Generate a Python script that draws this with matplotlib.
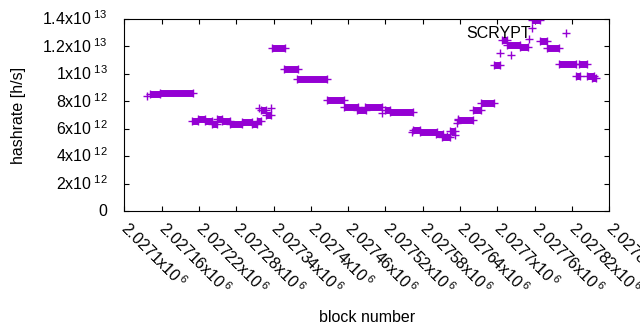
import numpy as np
import matplotlib
matplotlib.use('Agg')
import matplotlib.pyplot as plt

plt.rcParams['font.family'] = ['Liberation Sans', 'DejaVu Sans']
plt.rcParams['mathtext.fontset'] = 'custom'
plt.rcParams['mathtext.rm'] = 'Liberation Sans'

# SCRYPT hashrate per block.
# runs of blocks that share one hashrate: first block, last block, rate [h/s]
seg_first = [2027141, 2027157, 2027209, 2027218, 2027230, 2027241, 2027249, 2027257,
             2027270, 2027289, 2027305, 2027314, 2027320, 2027328, 2027338, 2027357,
             2027378, 2027426, 2027453, 2027474, 2027487, 2027519, 2027527, 2027564,
             2027576, 2027601, 2027611, 2027624, 2027637, 2027661, 2027674, 2027694,
             2027708, 2027716, 2027736, 2027756, 2027768, 2027780, 2027799, 2027827,
             2027831, 2027844, 2027852]
seg_last = [2027157, 2027210, 2027218, 2027230, 2027241, 2027249, 2027257, 2027270,
            2027289, 2027305, 2027314, 2027320, 2027328, 2027336, 2027358, 2027379,
            2027426, 2027453, 2027476, 2027488, 2027514, 2027527, 2027564, 2027575,
            2027603, 2027613, 2027624, 2027632, 2027661, 2027674, 2027694, 2027705,
            2027716, 2027737, 2027749, 2027768, 2027780, 2027799, 2027826, 2027833,
            2027844, 2027855, 2027858]
seg_rate = [8.53e12, 8.64e12, 6.58e12, 6.74e12, 6.54e12, 6.38e12, 6.74e12, 6.56e12,
            6.38e12, 6.52e12, 6.38e12, 6.56e12, 7.33e12, 6.98e12, 1.185e13, 1.032e13,
            9.59e12, 8.06e12, 7.62e12, 7.40e12, 7.62e12, 7.33e12, 7.25e12, 5.94e12,
            5.76e12, 5.58e12, 5.41e12, 5.87e12, 6.67e12, 7.36e12, 7.90e12, 1.068e13,
            1.247e13, 1.21e13, 1.196e13, 1.392e13, 1.243e13, 1.185e13, 1.072e13, 9.84e12,
            1.072e13, 9.84e12, 9.73e12]

# single blocks away from the runs
pt_block = [2027137, 2027317, 2027336, 2027515, 2027563, 2027619, 2027632, 2027635,
            2027637, 2027705, 2027722, 2027751, 2027756]
pt_rate = [8.38e12, 7.51e12, 7.51e12, 7.14e12, 5.76e12, 5.47e12, 5.54e12, 6.42e12,
           6.71e12, 1.152e13, 1.137e13, 1.254e13, 1.334e13]

x_ticks = [2027100, 2027160, 2027220, 2027280, 2027340, 2027400, 2027460,
           2027520, 2027580, 2027640, 2027700, 2027760, 2027820, 2027880]
x_labels = ['2.0271', '2.02716', '2.02722', '2.02728', '2.02734', '2.0274', '2.02746',
            '2.02752', '2.02758', '2.02764', '2.0277', '2.02776', '2.02782', '2.02788']
y_ticks = [0, 2e12, 4e12, 6e12, 8e12, 1e13, 1.2e13, 1.4e13]
y_labels = ['0', '2x10', '4x10', '6x10', '8x10', '1x10', '1.2x10', '1.4x10']
y_exps = ['', '12', '12', '12', '12', '13', '13', '13']

color = '#9400d3'
fs = 11.5

fig = plt.figure(figsize=(6.4, 3.3), dpi=100)
ax = fig.add_axes([0.1942, 0.3606, 0.7578, 0.5818])

# runs drawn as a band of overlapping crosses, arms showing at both ends
ax.hlines(seg_rate, seg_first, seg_last, colors=color, linewidth=5, capstyle='butt')
ax.plot(seg_first, seg_rate, '+', color=color, ms=5.5, mew=1)
ax.plot(seg_last, seg_rate, '+', color=color, ms=5.5, mew=1)
ax.plot(pt_block, pt_rate, '+', color=color, ms=5.5, mew=1, label='SCRYPT')

ax.set_xlim(x_ticks[0], x_ticks[-1])
ax.set_ylim(y_ticks[0], y_ticks[-1])

ax.set_xticks(x_ticks)
ax.set_xticklabels([l + r'x10$^{\,6}$' for l in x_labels], rotation=-45,
                   ha='left', va='center', rotation_mode='anchor', fontsize=fs)
ax.set_yticks(y_ticks)
ax.set_yticklabels([l + (r'$^{\;%s}$' % e if e else '') for l, e in zip(y_labels, y_exps)],
                   va='center', fontsize=fs)

ax.tick_params(direction='in', top=True, right=True, length=3.5, width=0.8)
ax.tick_params(axis='x', pad=10)
ax.tick_params(axis='y', pad=12)
for s in ax.spines.values():
    s.set_linewidth(0.8)

ax.set_xlabel('block number', fontsize=fs, labelpad=9)
ax.set_ylabel('hashrate [h/s]', fontsize=fs, labelpad=12)

ax.legend(loc='upper right', bbox_to_anchor=(0.944, 0.962), frameon=False,
          markerfirst=False, handlelength=2, handletextpad=1.2, borderpad=0,
          borderaxespad=0, fontsize=fs)

fig.savefig('out.png', dpi=100)
